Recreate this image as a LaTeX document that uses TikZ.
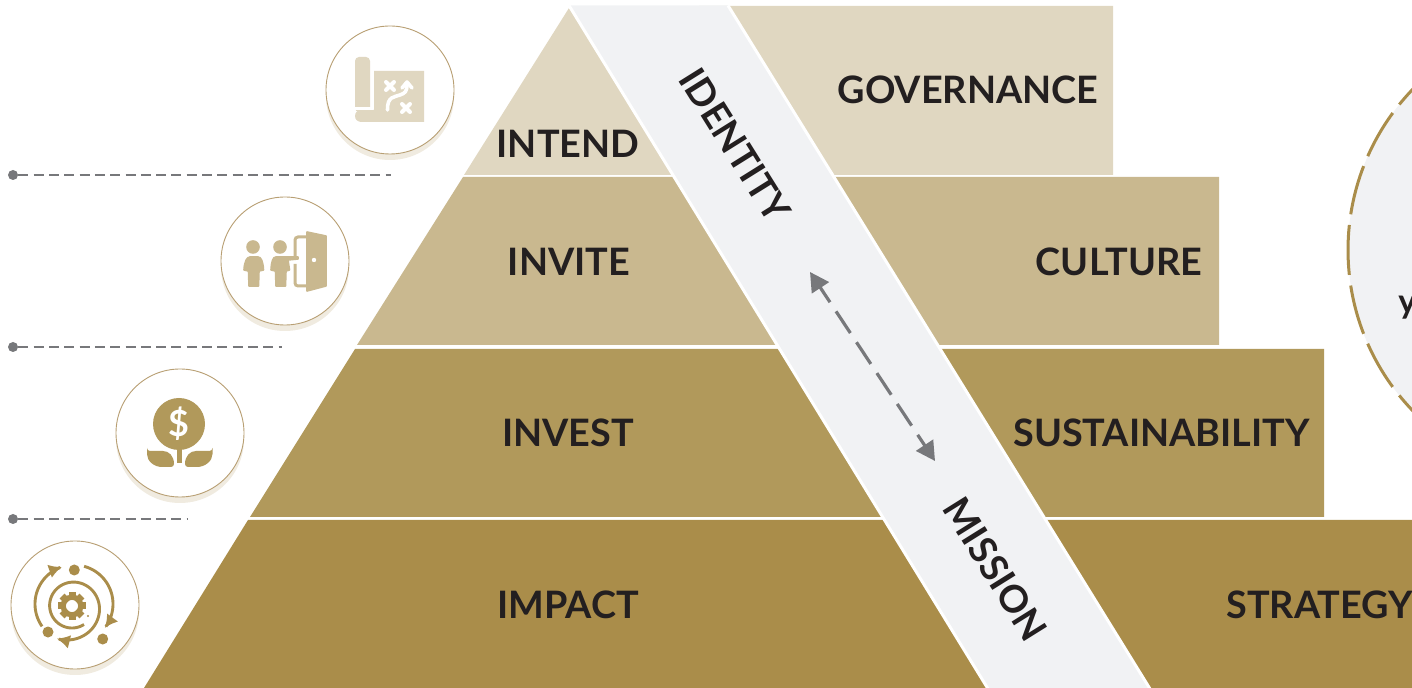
\documentclass[tikz,border=0pt]{standalone}
\usepackage{fontspec}
\setmainfont{Lato}[BoldFont={Lato Bold}]
\usetikzlibrary{arrows.meta}
\definecolor{cA}{HTML}{E0D7C1}
\definecolor{cB}{HTML}{C9B88F}
\definecolor{cC}{HTML}{B1995B}
\definecolor{cD}{HTML}{AA8D4A}
\definecolor{bandc}{HTML}{F1F2F4}
\definecolor{txt}{HTML}{231F20}
\definecolor{greyl}{HTML}{77787B}
\definecolor{shad}{HTML}{F0EBE0}
\definecolor{ringc}{HTML}{B89F73}
\tikzset{
  lbl/.style={font=\fontsize{18.9}{20}\selectfont\bfseries,text=txt,inner sep=0pt},
  bandedge/.style={draw=white,line width=1.5pt},
  leader/.style={draw=greyl,line width=1.25pt,dash pattern=on 5pt off 2.65pt},
  disc/.style={circle,minimum size=64pt,inner sep=0pt,fill=white,draw=ringc,line width=0.45pt},
  shadow/.style={circle,minimum size=64pt,inner sep=0pt,fill=shad},
  ender/.style={circle,fill=greyl,minimum size=5pt,inner sep=0pt},
  cyc/.style={line width=1.45pt,-{Latex[length=6.5pt,width=7pt]}},
}
\begin{document}
\begin{tikzpicture}[x=0.5pt,y=-0.5pt]
\useasboundingbox (0,0) rectangle (1412,688);
\clip (0,0) rectangle (1412,688);
% layers
\fill[cA] (569,8) -- (464,175) -- (1113,175) -- (1113,6) -- (700,6) -- cycle;
\fill[cB] (463,177) -- (357,345) -- (1219,345) -- (1219,177) -- cycle;
\fill[cC] (355,349) -- (250,517) -- (1324,517) -- (1324,349) -- cycle;
\fill[cD] (248,520) -- (144,688) -- (1412,688) -- (1412,520) -- cycle;
% band
\fill[bandc] (569,5.5) -- (728,5.5) -- (1150.7,690) -- (988.7,690) -- cycle;
\draw[bandedge] (569,5.5) -- (988.7,690);
\draw[bandedge] (728,5.5) -- (1150.7,690);
% right circle
\fill[bandc] (1580,250) circle (232);
\draw[cD,line width=1.5pt,dash pattern=on 25pt off 5.375pt,dash phase=12.5pt] (1580,250) circle (232);
\node[font=\fontsize{17}{18}\selectfont\bfseries,text=txt,inner sep=0pt,anchor=base west] (ycap) at (1398,314) {y};
% labels
\node[lbl] (intend) at (568,144) {INTEND};
\node[lbl] (gov) at (968,90) {GOVERNANCE};
\node[lbl] (invite) at (569,262) {INVITE};
\node[lbl] (culture) at (1119,262) {CULTURE};
\node[lbl] (invest) at (568,433) {INVEST};
\node[lbl] (sust) at (1161.5,433) {SUSTAINABILITY};
\node[lbl] (impact) at (568,605) {IMPACT};
\node[lbl] (strat) at (1319.5,605) {STRATEGY};
\node[lbl,rotate=-58] (identity) at (735,145) {IDENTITY};
\node[lbl,rotate=-58] (mission) at (995,569) {MISSION};
% double arrow
\coordinate (aS) at (810,272);
\coordinate (aE) at (935,461);
\draw[greyl,line width=1.6pt,dash pattern=on 13pt off 5.5pt,dash phase=4pt,{Triangle[length=9.5pt,width=10pt]}-{Triangle[length=9.5pt,width=10pt]}] (aS) -- (aE);
% leaders
\foreach \n/\yy/\xx in {a/175/391,b/347/282,c/519/187}{
  \node[ender] (d\n) at (13,\yy) {};
  \coordinate (e\n) at (\xx,\yy);
  \path[leader] (d\n) -- (e\n);
}
% discs
\foreach \n/\cx/\cy in {one/390/90,two/285/261,three/180/433,four/75/605}{
  \node[shadow] (s\n) at (\cx,\cy+6) {};
  \node[disc] (\n) at (\cx,\cy) {};
}
% icon 1: map
\fill[cA,rounded corners=2pt] (355,112) -- (355,57) -- (370,57) -- (370,112) -- cycle;
\fill[cA] (374,71) -- (424,71) -- (424,122) -- (362,122) .. controls (358,122) and (355,120) .. (355,116) .. controls (355,112) and (358,110) .. (362,110) -- (374,110) -- cycle;
\draw[white,line width=1.4pt] (354,108.5) -- (372,108.5) -- (372,70);
\begin{scope}[draw=white,line width=2pt,line cap=round]
\draw (386,82) -- (394,90) (386,90) -- (394,82);
\draw (402,104) -- (410,112) (402,112) -- (410,104);
\draw[line width=1.8pt] (387.5,110) .. controls (387,96) and (395,97) .. (400,95) .. controls (405,93) and (407,92) .. (407,84);
\draw[line width=1.8pt,line join=round] (402,88) -- (407,82) -- (412,88);
\end{scope}
% icon 2: people and door
\fill[cB] (253,247) circle (6.8) (280,247) circle (6.8);
\fill[cB,line join=round,draw=cB,line width=0.8pt] (250,257) -- (258,257) .. controls (261,257) and (263,261) .. (263.5,270) -- (259,271) -- (258.5,286) -- (249,286) -- (248.5,271) -- (244,270) .. controls (244.5,261) and (247,257) .. (250,257) -- cycle;
\fill[cB,line join=round,draw=cB,line width=0.8pt] (276,257) -- (298,257) -- (298,259) -- (288,260) -- (289.5,270) -- (286,271) -- (285.5,286) -- (276,286) -- (275.5,271) -- (271,270) .. controls (271.5,261) and (273,257) .. (276,257) -- cycle;
\draw[cB,line width=1.5pt,rounded corners=1.5pt] (307,237) -- (295,237) -- (295,256) (295,264) -- (295,286) -- (307,286);
\fill[cB,line join=round,draw=cB,line width=0.8pt] (307,232) -- (326,236) -- (326,286) -- (307,291) -- cycle;
\fill[white] (314,260) circle (2.2);
% icon 3: plant
\fill[cC] (179,424) circle (26);
\node[inner sep=0pt,text=white,font=\fontsize{18}{20}\selectfont\bfseries] (dollar) at (179,424) {\$};
\fill[cC,rounded corners=1.5pt] (147,451) -- (160,451) .. controls (169,451) and (174,456) .. (174,467) -- (165,467) .. controls (154,467) and (147,461) .. (147,451) -- cycle;
\fill[cC,rounded corners=1.5pt] (212.5,451) -- (199,451) .. controls (190,451) and (185,456) .. (185,467) -- (194,467) .. controls (205,467) and (212.5,461) .. (212.5,451) -- cycle;
\fill[cC] (177.3,449) rectangle (181.7,463);
% icon 4: cycle
\begin{scope}[cD]
\fill (74.3,570) circle (5.5) (102.7,639) circle (5.5) (48,632) circle (5.5) (88,616) circle (1.1);
\draw[cyc] plot[domain=145:252,samples=40] ({74+39*cos(\x)},{604+39*sin(\x)});
\draw[cyc] plot[domain=-75:38,samples=40] ({74+39*cos(\x)},{604+39*sin(\x)});
\draw[cyc] plot[domain=57:475,samples=120] ({72+(22+14*((\x-57)/418)^3)*cos(\x)},{606+(22+14*((\x-57)/418)^3)*sin(\x)});
\foreach \a in {0,45,...,315}{
  \fill[rotate around={\a:(72,606)}] (68.5,592) rectangle (75.5,600);
}
\draw[line width=2.6pt] (72,606) circle (8.8);
\end{scope}
\end{tikzpicture}
\end{document}
